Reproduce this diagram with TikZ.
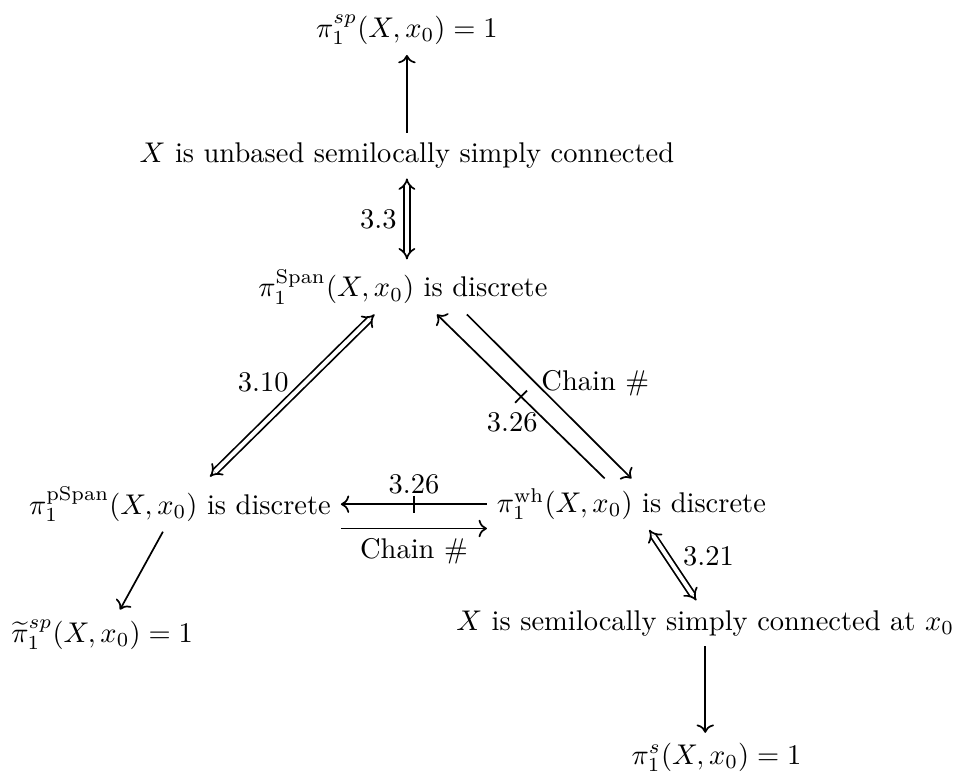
\documentclass[tikz,border=0pt]{standalone}
\usepackage{amsmath}
\usepackage{amssymb}
\usepackage{tikz}
\usetikzlibrary{arrows.meta,positioning,calc,decorations.markings}
\tikzset{
  stmt/.style  = {inner sep=3.33pt},
  imp/.style   = {->,line width=0.6pt},
  equiv/.style = {{Implies[scale=1.2]}-{Implies[scale=1.2]},double,
                  double distance=1.4pt,line width=0.6pt},
  nimp/.style  = {imp,postaction={decorate},
                  decoration={markings,mark=at position 0.5 with
                    {\draw[-,line width=0.6pt] (0,-3pt) -- (0,3pt);}}},
  lbl/.style   = {inner sep=1pt},
}
\begin{document}
\begin{tikzpicture}
  \useasboundingbox (0,0) rectangle (11.88,9.56);
  % Statements
  \node[stmt] (top)   at (5.02,9.19) {$\pi_1^{sp}(X,x_0)=1$};
  \node[stmt] (unb)   at (5.02,7.64) {$X$ is unbased semilocally simply connected};
  \node[stmt] (span)  at (4.97,6.02) {$\pi_1^{\mathrm{Span}}(X,x_0)$ is discrete};
  \node[stmt] (pspan) at (2.22,3.34) {$\pi_1^{\mathrm{pSpan}}(X,x_0)$ is discrete};
  \node[stmt] (wh)    at (7.79,3.34) {$\pi_1^{\mathrm{wh}}(X,x_0)$ is discrete};
  \node[stmt] (tsp)   at (1.26,1.73) {$\widetilde{\pi}_1^{sp}(X,x_0)=1$};
  \node[stmt] (slsc)  at (8.70,1.87) {$X$ is semilocally simply connected at $x_0$};
  \node[stmt] (ps)    at (8.84,0.22) {$\pi_1^{s}(X,x_0)=1$};

  % ---- Implications ----
  \draw[imp] (unb.north) -- (unb.north |- top.south);
  \draw[equiv] (unb.south) -- node[left] {3.3} (unb.south |- span.north);
  \draw[equiv] ([xshift=0.37cm]pspan.north) -- node[above left,lbl] {3.10}
        ([xshift=-0.35cm]span.south);
  \draw[nimp] ([xshift=-0.33cm]wh.north) -- node[below,xshift=-3pt,yshift=-2pt] {3.26}
        ([xshift=0.42cm]span.south);
  \draw[imp] ([xshift=0.79cm]span.south) -- node[anchor=south west,inner sep=0pt,
        xshift=-3pt] {Chain \#} (wh.north);
  \draw[nimp] (wh.west) -- node[above] {3.26} (wh.west -| pspan.east);
  \draw[imp] ([yshift=-0.3cm]pspan.east) -- node[below] {Chain \#}
        ([yshift=-0.3cm]wh.west);
  \draw[imp] ([xshift=-0.21cm]pspan.south) -- ([xshift=0.22cm]tsp.north);
  \draw[equiv] ([xshift=0.22cm]wh.south) -- node[right,yshift=3pt] {3.21}
        ([xshift=-0.11cm]slsc.north);
  \draw[imp] (slsc.south) -- (slsc.south |- ps.north);
\end{tikzpicture}
\end{document}
